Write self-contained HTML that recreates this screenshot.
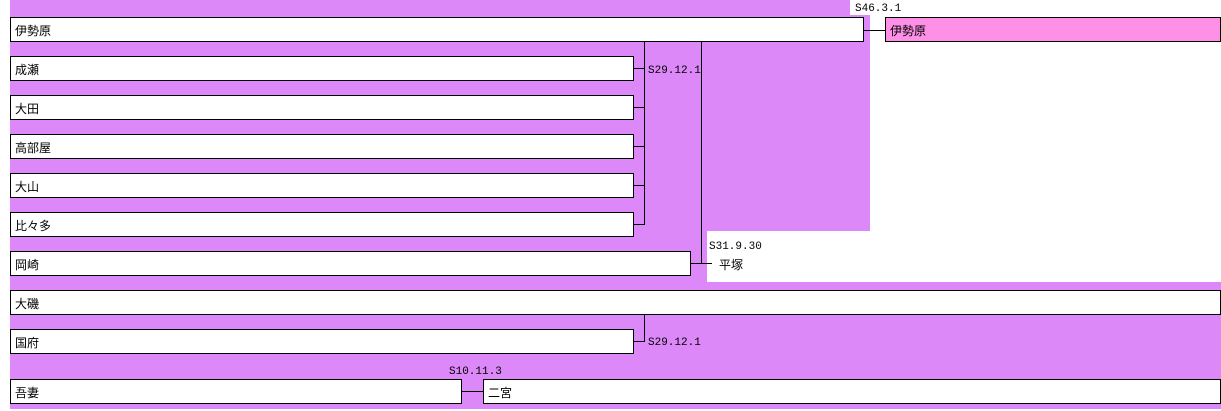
<!DOCTYPE html>
<html><head><meta charset="utf-8"><style>
body{margin:0;width:1221px;height:411px;position:relative;background:#fff;overflow:hidden;font-family:"Liberation Sans","Noto Sans CJK JP",sans-serif;font-size:12px}
div{position:absolute;box-sizing:border-box}
.p{background:#dd88f8}
.b{background:#fff;border:1px solid #000;height:25px;padding-left:4px;line-height:26px}
.l{background:#000}
.t{font-family:"Liberation Mono",monospace;font-size:11px;line-height:12px}
</style></head><body>
<div class="p" style="left:10px;top:0;width:860px;height:231px"></div>
<div class="p" style="left:10px;top:0;width:697px;height:282px"></div>
<div class="p" style="left:10px;top:282px;width:1211px;height:127px"></div>
<div style="left:850px;top:0;width:40px;height:15px;background:#fff"></div>
<div class="t" style="left:855px;top:3px">S46.3.1</div>
<div class="b" style="left:10px;top:17px;width:854px">伊勢原</div>
<div class="l" style="left:863px;top:30px;width:22px;height:1px"></div>
<div class="b" style="left:885px;top:17px;width:336px;background:#ff90e8">伊勢原</div>
<div class="b" style="left:10px;top:56px;width:624px">成瀬</div>
<div class="b" style="left:10px;top:95px;width:624px">大田</div>
<div class="b" style="left:10px;top:134px;width:624px">高部屋</div>
<div class="b" style="left:10px;top:173px;width:624px">大山</div>
<div class="b" style="left:10px;top:212px;width:624px">比々多</div>
<div class="l" style="left:644px;top:42px;width:1px;height:183px"></div>
<div class="l" style="left:633px;top:68px;width:12px;height:1px"></div>
<div class="l" style="left:633px;top:107px;width:12px;height:1px"></div>
<div class="l" style="left:633px;top:146px;width:12px;height:1px"></div>
<div class="l" style="left:633px;top:185px;width:12px;height:1px"></div>
<div class="l" style="left:633px;top:224px;width:12px;height:1px"></div>
<div class="t" style="left:648px;top:65px">S29.12.1</div>
<div class="b" style="left:10px;top:251px;width:681px">岡崎</div>
<div class="l" style="left:701px;top:42px;width:1px;height:222px"></div>
<div class="l" style="left:690px;top:263px;width:22px;height:1px"></div>
<div class="t" style="left:709px;top:241px">S31.9.30</div>
<div style="left:719px;top:258px;line-height:14px">平塚</div>
<div class="b" style="left:10px;top:290px;width:1211px">大磯</div>
<div class="b" style="left:10px;top:329px;width:624px">国府</div>
<div class="l" style="left:644px;top:315px;width:1px;height:27px"></div>
<div class="l" style="left:633px;top:341px;width:12px;height:1px"></div>
<div class="t" style="left:648px;top:337px">S29.12.1</div>
<div class="t" style="left:449px;top:366px">S10.11.3</div>
<div class="b" style="left:10px;top:379px;width:452px">吾妻</div>
<div class="l" style="left:461px;top:391px;width:22px;height:1px"></div>
<div class="b" style="left:483px;top:379px;width:738px">二宮</div>
</body></html>
